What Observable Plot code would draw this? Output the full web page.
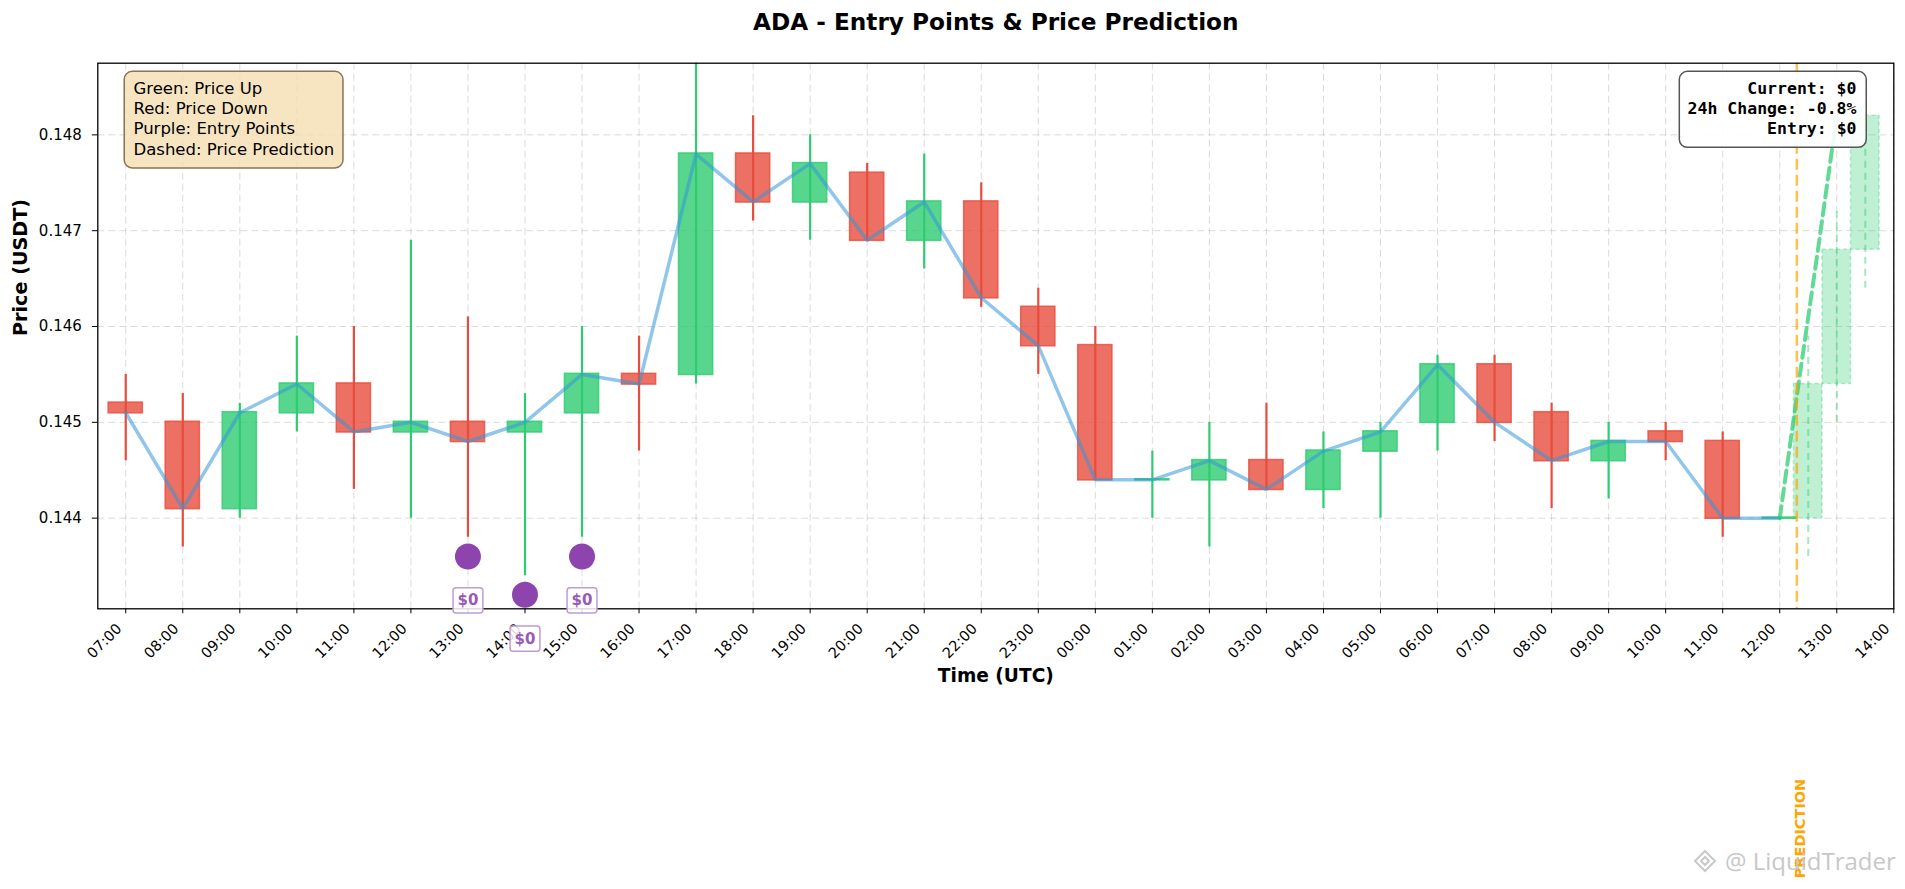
<!DOCTYPE html>
<html><head><meta charset="utf-8">
<script src="https://cdn.jsdelivr.net/npm/d3@7"></script>
<script src="https://cdn.jsdelivr.net/npm/@observablehq/plot@0.6"></script>
<style>
html,body{margin:0;padding:0;background:#fff;overflow:hidden;}
#chart{position:relative;width:1905px;height:889px;}
#wm{position:absolute;left:1693px;top:849px;font-family:"Open Sans",sans-serif;font-size:24px;color:#c6c6c6;white-space:nowrap;display:flex;align-items:center;gap:8px;line-height:1;opacity:0.95;}
</style></head><body><div id="chart"></div>
<script>
// ---- data ----
const hours = ["07:00","08:00","09:00","10:00","11:00","12:00","13:00","14:00","15:00","16:00","17:00","18:00","19:00","20:00","21:00","22:00","23:00",
  "00:00","01:00","02:00","03:00","04:00","05:00","06:00","07:00","08:00","09:00","10:00","11:00","12:00","13:00","14:00"];
const opens  = [0.1452,0.1450,0.1441,0.1451,0.1454,0.1449,0.1450,0.1449,0.1451,0.1455,0.1455,0.1478,0.1473,0.1476,0.1469,0.1473,0.1462,
  0.1458,0.1444,0.1444,0.1446,0.1443,0.1447,0.1450,0.1456,0.1451,0.1446,0.1449,0.1448,0.1440];
const highs  = [0.1455,0.1453,0.1452,0.1459,0.1460,0.1469,0.1461,0.1453,0.1460,0.1459,0.1488,0.1482,0.1480,0.1477,0.1478,0.1475,0.1464,
  0.1460,0.1447,0.1450,0.1452,0.1449,0.1450,0.1457,0.1457,0.1452,0.1450,0.1450,0.1449,0.1440];
const lows   = [0.1446,0.1437,0.1440,0.1449,0.1443,0.1440,0.1438,0.1434,0.1438,0.1447,0.1454,0.1471,0.1469,0.1469,0.1466,0.1462,0.1455,
  0.1444,0.1440,0.1437,0.1443,0.1441,0.1440,0.1447,0.1448,0.1441,0.1442,0.1446,0.1438,0.1440];
const closes = [0.1451,0.1441,0.1451,0.1454,0.1449,0.1450,0.1448,0.1450,0.1455,0.1454,0.1478,0.1473,0.1477,0.1469,0.1473,0.1463,0.1458,
  0.1444,0.1444,0.1446,0.1443,0.1447,0.1449,0.1456,0.1450,0.1446,0.1448,0.1448,0.1440,0.1440];
const yTicks = [0.144, 0.145, 0.146, 0.147, 0.148];

const predX     = [29.5, 30, 30.5];
const predOpen  = [0.1440, 0.1454, 0.1468];
const predClose = [0.1454, 0.1468, 0.1482];
const predHigh  = [0.1459, 0.1472, 0.1486];
const predLow   = [0.1436, 0.1450, 0.1464];
const predLineX = [29, 29.33, 29.67, 30];
const predLineY = [0.1440, 0.1454, 0.1468, 0.1482];
const predStart = 29.3;

const entryIdx   = [6, 7, 8];
const entryPrice = [0.1436, 0.1432, 0.1436];
const entryText  = ["$0", "$0", "$0"];

const legendLines = ["Green: Price Up", "Red: Price Down", "Purple: Entry Points", "Dashed: Price Prediction"];
const infoLines = ["Current: $0", "24h Change: -0.8%", "Entry: $0"];
const titleText = "ADA - Entry Points & Price Prediction";

// ---- tables ----
const GREEN = "#2ecc71", RED = "#e74c3c";
const candles = closes.map((c, i) => ({i, open: opens[i], high: highs[i], low: lows[i], close: c, color: c >= opens[i] ? GREEN : RED}));
const preds = predX.map((x, k) => ({x, open: predOpen[k], close: predClose[k], high: predHigh[k], low: predLow[k]}));
const predLine = predLineX.map((x, k) => ({x, y: predLineY[k]}));
const entries = entryIdx.map((i, k) => ({i, price: entryPrice[k], label: entryText[k]}));
const xTicks = hours.map((_, i) => i);

const svg = Plot.plot({
  width: 1905, height: 889,
  marginTop: 62.7, marginRight: 11.7, marginBottom: 280.7, marginLeft: 97.3,
  x: {type: "linear", domain: [-0.49, 31]},
  y: {domain: [0.143054, 0.148748]},
  color: {type: "identity"},
  style: {fontFamily: "DejaVu Sans", fontSize: "14px", background: "white", overflow: "visible", color: "black"},
  marks: [
    Plot.gridY(yTicks, {stroke: "#999", strokeOpacity: 0.35, strokeWidth: 1, strokeDasharray: "7,4"}),
    Plot.gridX(xTicks, {stroke: "#999", strokeOpacity: 0.35, strokeWidth: 1, strokeDasharray: "7,4"}),
    Plot.rect(candles, {x1: d => d.i - 0.3, x2: d => d.i + 0.3, y1: d => Math.min(d.open, d.close), y2: d => Math.max(d.open, d.close),
      fill: "color", fillOpacity: 0.8, stroke: "color", strokeOpacity: 0.8, strokeWidth: 1.5, insetTop: -0.6, insetBottom: -0.6}),
    Plot.ruleX(candles, {x: "i", y1: "low", y2: "high", stroke: "color", strokeWidth: 2.2, clip: true}),
    Plot.line(candles, {x: "i", y: "close", stroke: "#3498db", strokeOpacity: 0.55, strokeWidth: 3.5}),
    Plot.rect(preds, {x1: d => d.x - 0.25, x2: d => d.x + 0.25, y1: "open", y2: "close",
      fill: GREEN, fillOpacity: 0.3, stroke: GREEN, strokeOpacity: 0.35, strokeWidth: 1.5, strokeDasharray: "4,3"}),
    Plot.ruleX(preds, {x: "x", y1: "low", y2: "high", stroke: GREEN, strokeOpacity: 0.45, strokeWidth: 2, strokeDasharray: "7,5", clip: true}),
    Plot.line(predLine, {x: "x", y: "y", stroke: GREEN, strokeOpacity: 0.75, strokeWidth: 4, strokeDasharray: "12,6", clip: true}),
    Plot.ruleX([predStart], {stroke: "orange", strokeOpacity: 0.7, strokeWidth: 2.5, strokeDasharray: "11,5"}),
    Plot.dot(entries, {x: "i", y: "price", r: 13, fill: "#8e44ad", stroke: "none"}),
    Plot.axisY({ticks: yTicks, tickFormat: d3.format(".3f"), fontSize: 15, tickSize: 5.5, tickPadding: 10.5, label: null}),
    Plot.axisX({ticks: xTicks, tickFormat: i => hours[i], tickRotate: -45, fontSize: 14.5, tickSize: 5, tickPadding: 5, label: null}),
    Plot.frame({stroke: "black", strokeWidth: 1.3}),
    Plot.text(entries, {x: "i", y: "price", text: "label", dy: 44, fontSize: 15, fontWeight: "bold", fill: "#9b59b6", ariaDescription: "entry-labels"}),
    Plot.text([{x: predStart, t: "PREDICTION"}], {x: "x", text: "t", frameAnchor: "bottom", dx: 8.3, dy: 219.7, rotate: -90,
      fill: "orange", fontWeight: "bold", fontSize: 14.5}),
    Plot.text([legendLines.join("\n")], {text: d => d, frameAnchor: "top-left", dx: 35.7, dy: 15.8, lineAnchor: "top", textAnchor: "start",
      fontSize: 16.5, lineHeight: 1.24, fill: "black", ariaDescription: "legend-text"}),
    Plot.text([infoLines.join("\n")], {text: d => d, frameAnchor: "top-right", dx: -37.3, dy: 15.8, lineAnchor: "top", textAnchor: "end",
      fontSize: 16.5, lineHeight: 1.24, fontFamily: "DejaVu Sans Mono", fontWeight: "bold", fill: "black", ariaDescription: "info-text"}),
    Plot.text([titleText], {text: d => d, frameAnchor: "top", dy: -40.2, lineAnchor: "middle", fontSize: 23.2, fontWeight: "bold", fill: "black"}),
    Plot.text(["Price (USDT)"], {text: d => d, frameAnchor: "left", dx: -76.8, rotate: -90, fontSize: 19.2, fontWeight: "bold", fill: "black"}),
    Plot.text(["Time (UTC)"], {text: d => d, frameAnchor: "bottom", dy: 73, fontSize: 18.6, fontWeight: "bold", fill: "black"})
  ]
});
const chart = document.getElementById("chart");
chart.appendChild(svg);

const NS = "http://www.w3.org/2000/svg";
// shift rotated x tick labels so their box hangs below-left of the tick (matplotlib style)
for (const g of svg.querySelectorAll('g[aria-label="x-axis tick label"]')) {
  const m = /translate\(([-\d.]+),\s*([-\d.]+)\)/.exec(g.getAttribute("transform") || "translate(0,0)");
  const tx = m ? +m[1] : 0, ty = m ? +m[2] : 0;
  g.setAttribute("transform", `translate(${tx - 6.5},${ty + 7.5})`);
}

// ---- boxes behind annotation texts ----
function boxAround(desc, pad, attrs) {
  for (const g of svg.querySelectorAll(`g[aria-description="${desc}"]`)) {
    for (const t of g.querySelectorAll("text")) {
      const b = t.getBBox();
      const r = document.createElementNS(NS, "rect");
      r.setAttribute("x", b.x - pad.l);
      r.setAttribute("y", b.y - pad.t);
      r.setAttribute("width", b.width + pad.l + pad.r);
      r.setAttribute("height", b.height + pad.t + pad.b);
      const tr = t.getAttribute("transform");
      if (tr) r.setAttribute("transform", tr);
      for (const [k, v] of Object.entries(attrs)) r.setAttribute(k, v);
      t.parentNode.insertBefore(r, t);
    }
  }
}
boxAround("legend-text", {l: 9.3, r: 8.7, t: 7.2, b: 9.0},
  {fill: "wheat", "fill-opacity": 0.8, stroke: "#8c7357", "stroke-width": 1.5, rx: 8, ry: 8});
boxAround("info-text", {l: 8.3, r: 9.7, t: 7.2, b: 8.9},
  {fill: "white", "fill-opacity": 0.9, stroke: "#555", "stroke-width": 1.5, rx: 8, ry: 8});
boxAround("entry-labels", {l: 4.5, r: 4.5, t: 3.6, b: 3.6},
  {fill: "white", "fill-opacity": 0.85, stroke: "#c39bd3", "stroke-width": 1.5, rx: 3, ry: 3});

// ---- watermark ----
const wm = document.createElement("div");
wm.id = "wm";
wm.innerHTML = '<svg width="24" height="24" viewBox="0 0 24 24"><g fill="none" stroke="#c6c6c6" stroke-width="2"><path d="M12 2 L22 12 L12 22 L2 12 Z"/><path d="M12 8 L16 12 L12 16 L8 12 Z"/></g></svg><span>@ LiquidTrader</span>';
chart.appendChild(wm);
</script>
</body></html>
